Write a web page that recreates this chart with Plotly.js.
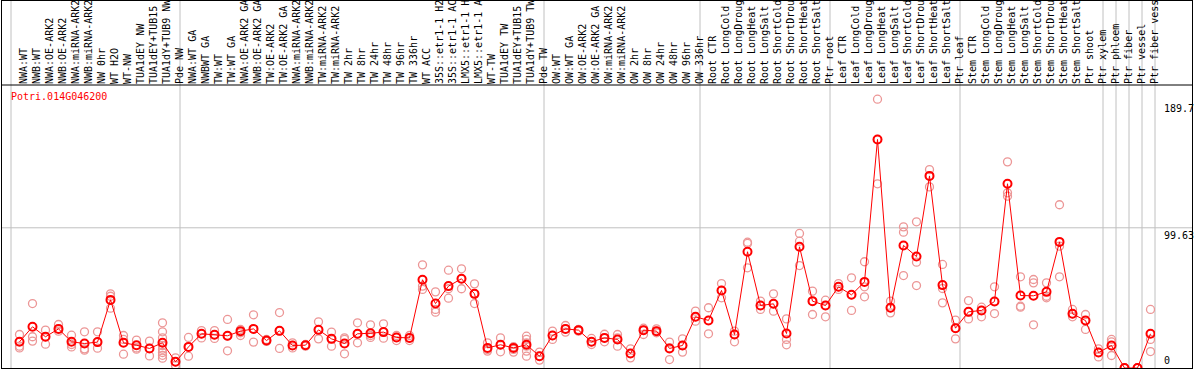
<!DOCTYPE html>
<html>
<head>
<meta charset="utf-8">
<script src="https://cdn.plot.ly/plotly-3.0.1.min.js"></script>
<style>html,body{margin:0;padding:0;background:#fff;}#chart{width:1194px;height:370px;}</style>
</head>
<body>
<div id="chart"></div>
<script>
// ---- data ----
const geneId = "Potri.014G046200";

const categories = [
  "NWA:WT","NWB:WT","NWA:OE-ARK2","NWB:OE-ARK2","NWA:miRNA-ARK2","NWB:miRNA-ARK2","NW 0hr","WT H2O","WT-NW","TUA1dEY NW","TUA1dEY+TUB15 NW","TUA1dY+TUB9 NW","Pde NW",
  "NWA:WT GA","NWBWT GA","TW:WT","TW:WT GA","NWA:OE-ARK2 GA","NWB:OE-ARK2 GA","TW:OE-ARK2","TW:OE-ARK2 GA","NWA:miRNA-ARK2","NWB:miRNA-ARK2","TW:miRNA-ARK2","TW:miRNA-ARK2",
  "TW 2hr","TW 8hr","TW 24hr","TW 48hr","TW 96hr","TW 336hr","WT ACC","35S::etr1-1 H2O","35S::etr1-1 ACC","LMX5::etr1-1 H2O","LMX5::etr1-1 ACC","WT-TW","TUA1dEY TW","TUA1dEY+TUB15 TW","TUA1dY+TUB9 TW","Pde TW",
  "OW:WT","OW:WT GA","OW:OE-ARK2","OW:OE-ARK2 GA","OW:miRNA-ARK2","OW:miRNA-ARK2","OW 2hr","OW 8hr","OW 24hr","OW 48hr","OW 96hr","OW 336hr",
  "Root CTR","Root LongCold","Root LongDrought","Root LongHeat","Root LongSalt","Root ShortCold","Root ShortDrought","Root ShortHeat","Root ShortSalt","Ptr root",
  "Leaf CTR","Leaf LongCold","Leaf LongDrought","Leaf LongHeat","Leaf LongSalt","Leaf ShortCold","Leaf ShortDrought","Leaf ShortHeat","Leaf ShortSalt","Ptr leaf",
  "Stem CTR","Stem LongCold","Stem LongDrought","Stem LongHeat","Stem LongSalt","Stem ShortCold","Stem ShortDrought","Stem ShortHeat","Stem ShortSalt","Ptr shoot",
  "Ptr xylem","Ptr phloem","Ptr fiber","Ptr vessel","Ptr fiber vessel"
];
// the header row only has room for 14 characters per label
const labelChars = 14;

// group boundaries (index of first category of each group, plus end)
const groupStarts = [0, 13, 41, 53, 63, 73, 84, 85, 86, 87, 88];

const meanValues = [
  18.6, 29.3, 22.2, 27.8, 18.6, 17.4, 18.4, 48.4, 17.9, 16.2, 13.9, 17.9, 4.4,
  15.0, 24.3, 23.6, 22.9, 26.2, 27.8, 19.5, 26.4, 16.0, 16.2, 27.1, 20.7,
  17.4, 24.3, 24.7, 25.5, 21.7, 21.4, 62.7, 45.8, 58.2, 63.4, 52.7, 14.3, 16.5, 14.3, 16.5, 8.4,
  23.1, 27.8, 26.9, 18.6, 21.4, 20.3, 10.3, 26.9, 26.2, 13.9, 16.0, 36.4,
  33.8, 55.1, 23.8, 82.6, 44.4, 45.6, 24.5, 86.1, 47.5, 44.4,
  57.7, 52.0, 61.2, 162.4, 42.8, 87.1, 79.2, 136.5, 58.9, 28.3,
  39.9, 40.9, 47.3, 130.9, 51.5, 51.3, 54.1, 89.6, 38.5, 33.7,
  11.0, 16.0, 0, 0, 24.3
];

const replicateValues = [
  [23.8,15.5,14.3],[45.8,22.2,19.1],[26.9,22.2,16.9],[30.9,27.8,26.2],[23.3,16.7,15.0],[25.7,13.6,12.7],
  [25.7,18.4,14.1],[52.7,51.0,42.5],[23.1,20.3,9.8],[19.8,14.3,13.4],[19.1,13.9,8.6],
  [32.1,25.7,21.4,16.0,13.4,11.0,9.0,7.0],[7.2,4.4,1.8],
  [21.7,15.0,8.4],[26.6,24.3,21.4],[26.6,23.6,21.0],[34.5,22.6,12.2],[27.4,25.0,23.1],[37.8,27.8,18.4],
  [20.3,19.5,18.9],[39.4,26.4,13.9],[17.9,16.0,14.3],[16.7,16.2,15.5],[32.8,27.1,20.7],[25.5,20.7,15.5],
  [21.4,20.3,10.1],[32.1,24.3,17.9],[30.7,23.1,21.7],[31.4,25.5,21.2],[23.1,21.7,19.5],[23.1,21.4,19.5],
  [73.3,58.2,55.8],[54.1,41.6,39.7],[69.5,56.3,49.6],[70.5,63.4,56.3],[59.8,52.7,45.8],[17.9,13.1,12.0],
  [21.4,16.5,11.5],[15.1,13.2,11.3],[22.6,20.3,17.9,15.5,12.0,8.4],[11.3,8.4,5.6],
  [26.2,23.1,20.3],[30.2,27.8,25.5],[27.4,26.9,26.2],[21.0,18.6,16.7],[24.0,21.4,18.6],[23.8,21.4,15.5],
  [13.6,10.3,7.2],[28.3,26.9,23.8],[27.8,26.2,25.0],[18.4,14.3,6.0],[20.7,16.0,11.3],[40.4,36.4,33.3],
  [42.8,33.8,24.3],[60.0,55.1,49.9],[26.2,23.8,18.6],[89.4,88.5,71.2],[47.5,44.4,41.6],[52.7,45.6,40.4],
  [34.9,20.3,16.5],[95.6,90.1,72.8],[54.6,47.5,38.0],[48.2,44.4,36.4],
  [60.0,57.7,55.8],[64.1,52.0,40.9],[75.5,57.7,50.6],[191.0,162.4,130.9],[47.5,42.8,39.2],[100.3,96.5,65.7],
  [103.9,75.2,58.6],[141.0,136.5,128.7],[73.6,56.5,46.3],[34.0,28.3,20.7],
  [47.9,39.9,34.9],[43.2,40.9,36.4],[57.7,47.3,38.7],[146.5,124.5,122.1],[64.8,43.9,43.2],[62.9,60.5,30.7],
  [60.5,51.0,49.9],[116.0,86.6,64.8],[41.6,38.5,36.4],[38.0,33.7,27.4],
  [13.6,11.0,7.9],[20.3,18.5,8.9],[0,0,0],[0,0,0],[41.6,20.3,11.7]
];

const yTickValues = [0, 99.63, 189.7];
const yTickLabels = ["0", "99.63", "189.7"];

// ---- geometry ----
const W = 1194, H = 370, L = 11, R = 39, T = 85, B = 2;
const PW = W - L - R, PH = H - T - B;
const pxX = x => (x - L) / PW;
const pxY = y => (H - B - y) / PH;
const N = categories.length;
const xOff = 8.5 / 13;           // point offset inside each category cell
const xRange = [-xOff, N - xOff];
const yRange = [0, 201.1];

const idx = categories.map((_, i) => i);
const shownLabels = categories.map(c => c.slice(0, labelChars));
const repX = [], repY = [];
replicateValues.forEach((arr, i) => arr.forEach(v => { repX.push(i); repY.push(v); }));

const mono = "DejaVu Sans Mono, Liberation Mono, monospace";

const traces = [
  {
    x: repX, y: repY, type: "scatter", mode: "markers",
    marker: { symbol: "circle-open", size: 8, color: "rgb(236,150,150)", line: { width: 1.3, color: "rgb(236,150,150)" } },
    hoverinfo: "y", showlegend: false
  },
  {
    x: idx, y: meanValues, type: "scatter", mode: "lines+markers",
    line: { color: "#ff0000", width: 1 },
    marker: { symbol: "circle-open", size: 8, color: "#ff0000", line: { width: 2, color: "#ff0000" } },
    hoverinfo: "y", showlegend: false
  }
];

const shapes = [];
const gray = "#c0c0c0";
groupStarts.forEach(k => {
  const x = pxX(L + 13 * k);
  shapes.push({ type: "line", xref: "paper", yref: "paper", x0: x, x1: x, y0: 0, y1: pxY(0), line: { color: gray, width: 1 }, layer: "below" });
});
shapes.push({ type: "line", xref: "paper", yref: "y", x0: pxX(1), x1: pxX(1193), y0: yTickValues[1], y1: yTickValues[1], line: { color: gray, width: 1 }, layer: "below" });
// black frame
const blk = { color: "#000", width: 1 };
shapes.push({ type: "line", xref: "paper", yref: "paper", x0: pxX(1), x1: pxX(1193), y0: pxY(0.5), y1: pxY(0.5), line: blk });
shapes.push({ type: "line", xref: "paper", yref: "paper", x0: pxX(1), x1: pxX(1193), y0: pxY(85), y1: pxY(85), line: blk });
shapes.push({ type: "line", xref: "paper", yref: "paper", x0: pxX(1), x1: pxX(1193), y0: pxY(368.5), y1: pxY(368.5), line: blk });
shapes.push({ type: "line", xref: "paper", yref: "paper", x0: pxX(1.5), x1: pxX(1.5), y0: pxY(0), y1: pxY(369), line: blk });
shapes.push({ type: "line", xref: "paper", yref: "paper", x0: pxX(1192.5), x1: pxX(1192.5), y0: pxY(0), y1: pxY(369), line: blk });

const annotations = [
  { text: geneId, xref: "paper", yref: "paper", x: pxX(9), y: pxY(97), xanchor: "left", yanchor: "middle",
    showarrow: false, font: { family: mono, size: 10, color: "#ff0000" } },
  { text: yTickLabels[2], xref: "paper", yref: "y", x: pxX(1162), y: yTickValues[2], xanchor: "left", yanchor: "top",
    showarrow: false, font: { family: mono, size: 10, color: "#000" } },
  { text: yTickLabels[1], xref: "paper", yref: "y", x: pxX(1162), y: yTickValues[1], xanchor: "left", yanchor: "top",
    showarrow: false, font: { family: mono, size: 10, color: "#000" } },
  { text: yTickLabels[0], xref: "paper", yref: "y", x: pxX(1162), y: yTickValues[0], xanchor: "left", yanchor: "bottom",
    showarrow: false, font: { family: mono, size: 10, color: "#000" } }
];

const layout = {
  width: W, height: H,
  margin: { l: L, r: R, t: T, b: B, pad: 0 },
  paper_bgcolor: "#fff", plot_bgcolor: "#fff",
  showlegend: false,
  xaxis: {
    range: xRange, side: "top", tickmode: "array", tickvals: idx, ticktext: shownLabels,
    tickangle: -90, ticks: "", showgrid: false, zeroline: false, showline: false,
    ticklabelshift: 4, ticklabelstandoff: 0,
    tickfont: { family: mono, size: 10, color: "#000" }, automargin: false, fixedrange: true
  },
  yaxis: {
    range: yRange, showticklabels: false, ticks: "", showgrid: false, zeroline: false, showline: false,
    automargin: false, fixedrange: true
  },
  shapes: shapes,
  annotations: annotations
};

Plotly.newPlot("chart", traces, layout, { displayModeBar: false, staticPlot: true });
</script>
</body>
</html>
